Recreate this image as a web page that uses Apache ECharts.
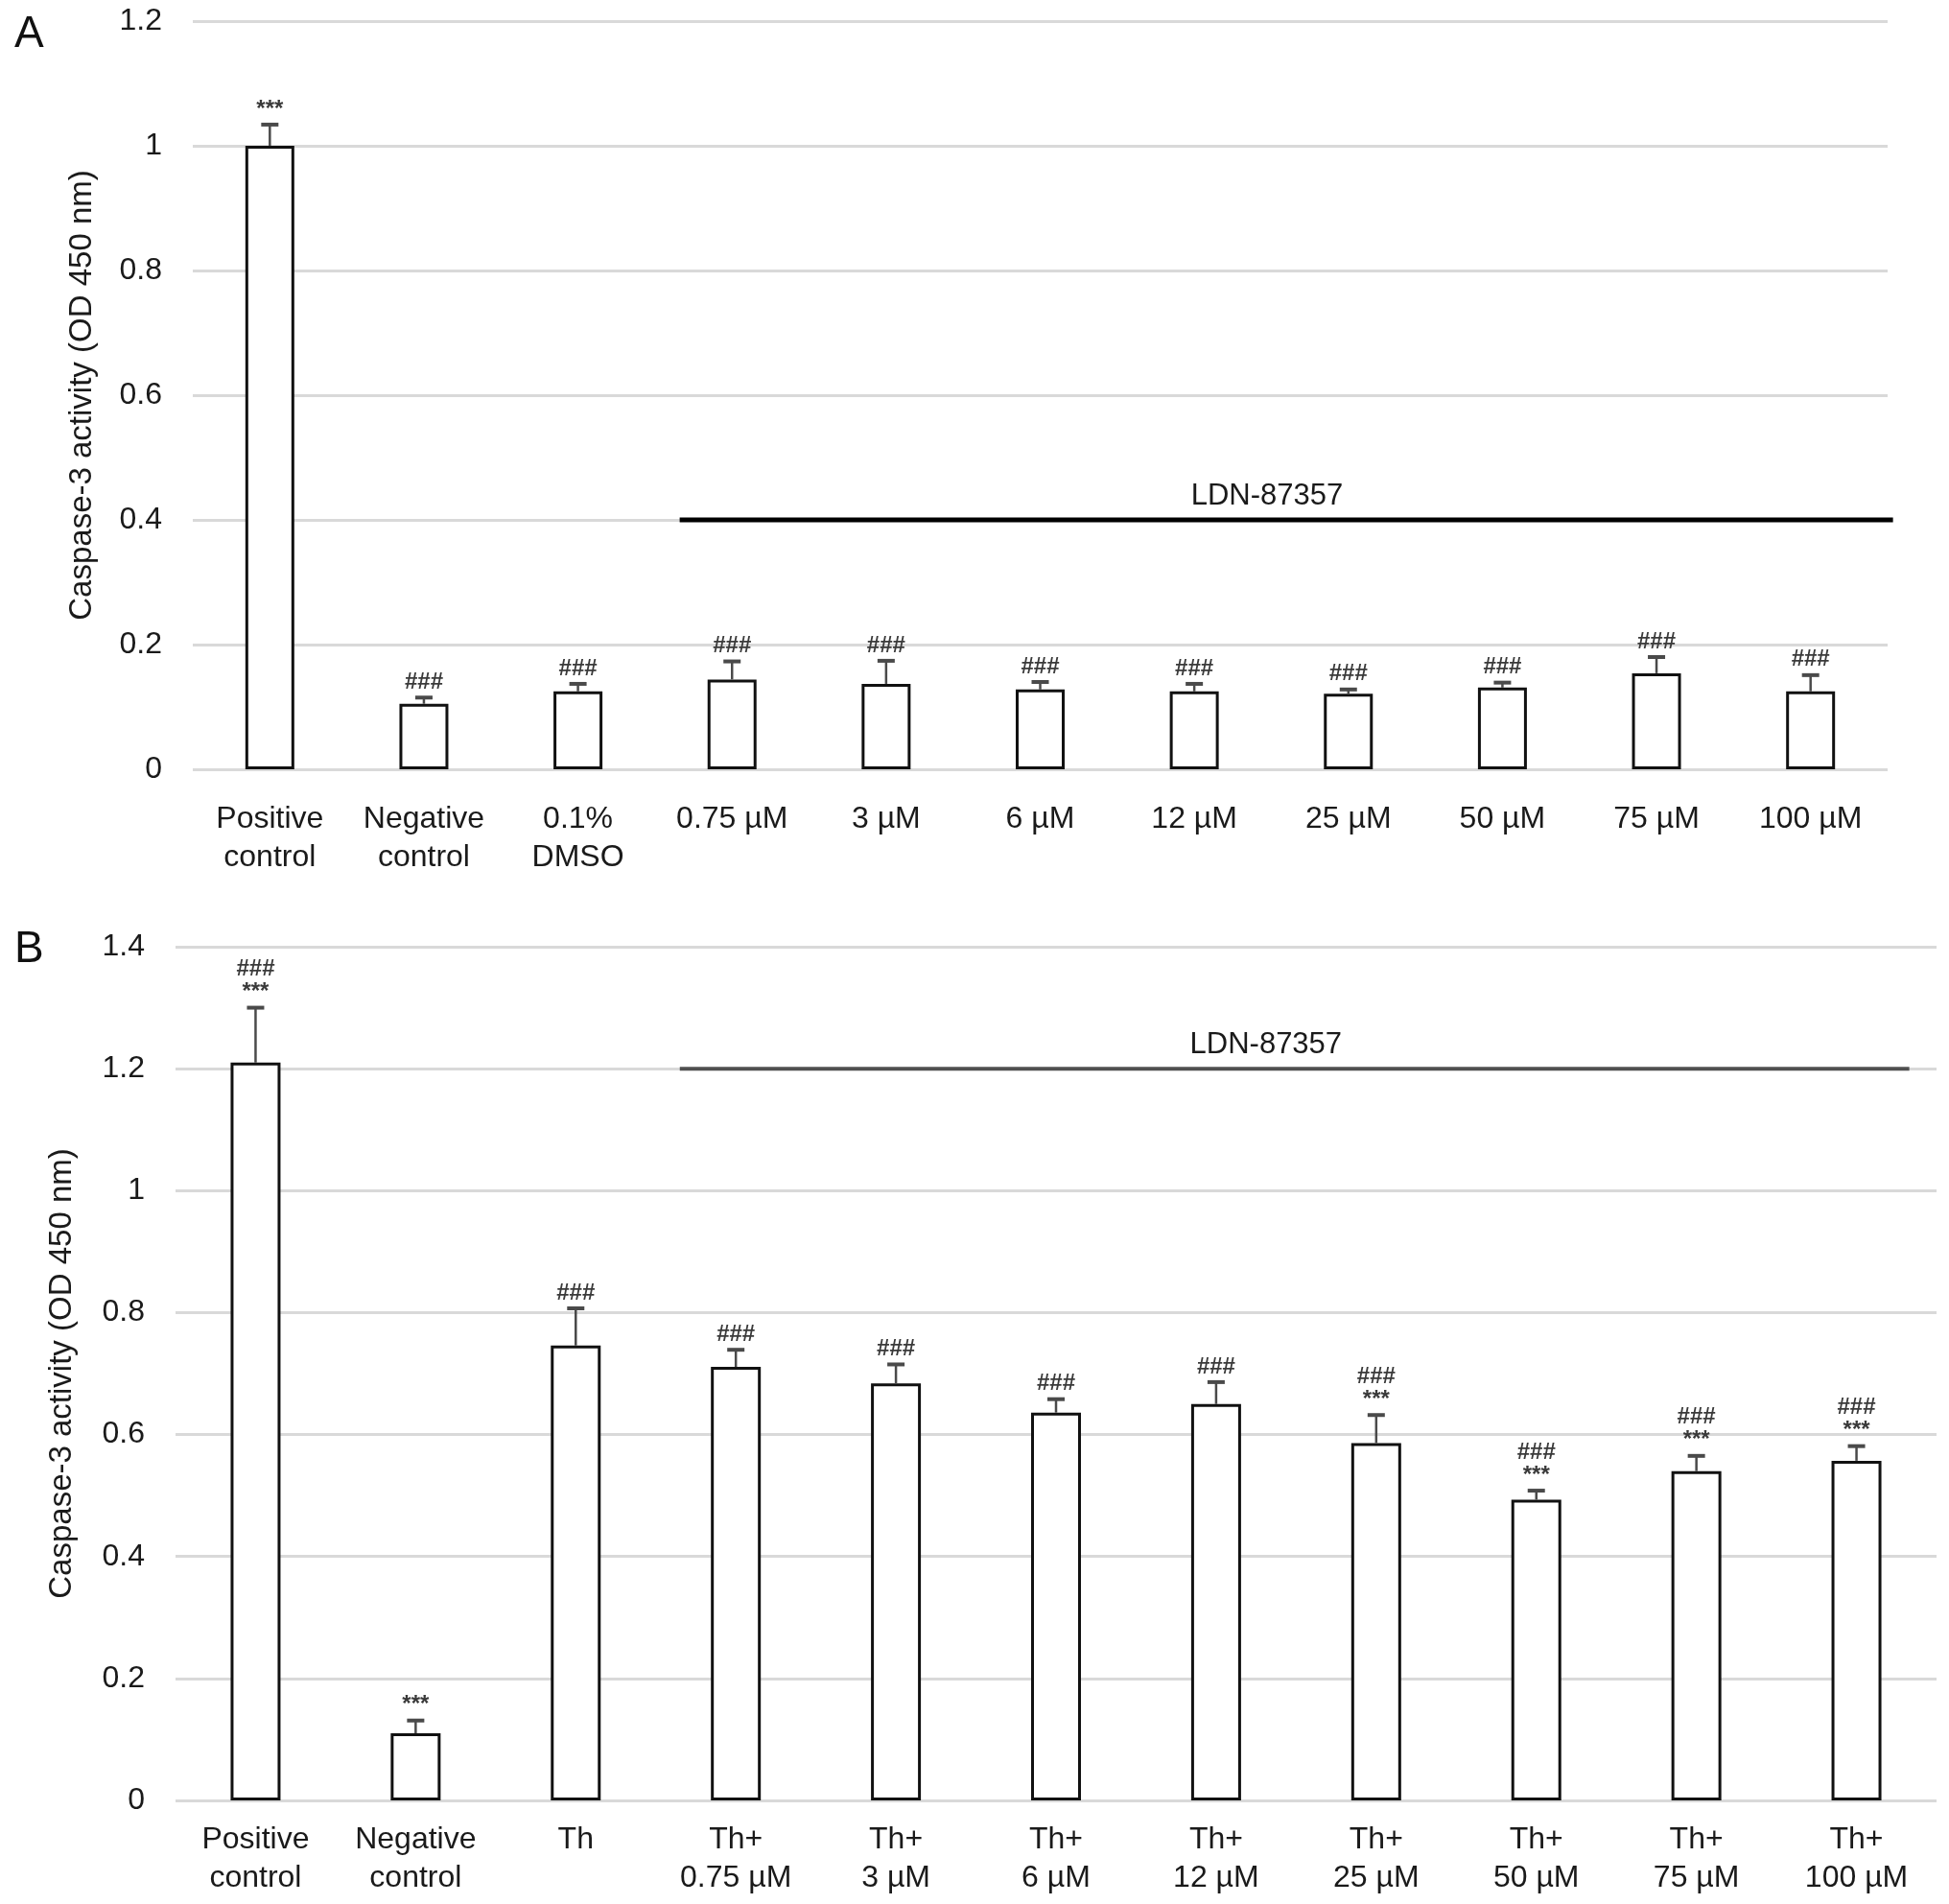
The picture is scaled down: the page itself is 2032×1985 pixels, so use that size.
<!DOCTYPE html>
<html>
<head>
<meta charset="utf-8">
<script src="https://cdn.jsdelivr.net/npm/echarts@6/dist/echarts.min.js"></script>
<style>
html,body{margin:0;padding:0;background:#fff;}
#chart{width:2032px;height:1985px;}
</style>
</head>
<body>
<div id="chart"></div>
<script>
// ---- Data ----
var categoriesA = ['Positive\ncontrol','Negative\ncontrol','0.1%\nDMSO','0.75 µM','3 µM','6 µM','12 µM','25 µM','50 µM','75 µM','100 µM'];
var valuesA = [1.0, 0.105, 0.125, 0.144, 0.137, 0.128, 0.125, 0.121, 0.131, 0.154, 0.125];
var errorsA = [0.034, 0.010, 0.012, 0.029, 0.037, 0.012, 0.012, 0.007, 0.008, 0.026, 0.026];
var marksA = ['***','###','###','###','###','###','###','###','###','###','###'];

var categoriesB = ['Positive\ncontrol','Negative\ncontrol','Th','Th+\n0.75 µM','Th+\n3 µM','Th+\n6 µM','Th+\n12 µM','Th+\n25 µM','Th+\n50 µM','Th+\n75 µM','Th+\n100 µM'];
var valuesB = [1.21, 0.110, 0.746, 0.711, 0.684, 0.636, 0.650, 0.586, 0.493, 0.540, 0.557];
var errorsB = [0.090, 0.021, 0.061, 0.028, 0.031, 0.022, 0.036, 0.046, 0.015, 0.025, 0.024];
var marksB = ['###\n***','***','###','###','###','###','###','###\n***','###\n***','###\n***','###\n***'];

var yTicksA = {min: 0, max: 1.2, interval: 0.2};
var yTicksB = {min: 0, max: 1.4, interval: 0.2};

var treatmentLabel = 'LDN-87357';
var treatmentStartIdx = 3, treatmentEndIdx = 10;
var treatmentLevelA = 0.4, treatmentLevelB = 1.2;

var yTitle = 'Caspase-3 activity (OD 450 nm)';

// ---- Chart ----
var FONT = '"Liberation Sans", Arial, Helvetica, sans-serif';
var chart = echarts.init(document.getElementById('chart'), null, {renderer: 'canvas'});

function errData(vals, errs) {
  return vals.map(function (v, i) { return [i, v, errs[i]]; });
}

function errRender(marks) {
  return function (params, api) {
    var i = api.value(0), v = api.value(1), e = api.value(2);
    var base = api.coord([i, v]);
    var top = api.coord([i, v + e]);
    var half = 9;
    return {
      type: 'group',
      children: [
        {type: 'line', shape: {x1: base[0], y1: base[1], x2: top[0], y2: top[1]}, style: {stroke: '#4a4a4a', lineWidth: 2.5}},
        {type: 'line', shape: {x1: top[0] - half, y1: top[1], x2: top[0] + half, y2: top[1]}, style: {stroke: '#4a4a4a', lineWidth: 4}},
        {type: 'text', x: top[0], y: top[1] - 4,
         style: {text: marks[params.dataIndex], fill: '#3a3a3a', font: 'bold 24px ' + FONT,
                 align: 'center', verticalAlign: 'bottom', lineHeight: 24}}
      ]
    };
  };
}

function treatRender(level, startFrac, endFrac, textFrac, color, width) {
  return function (params, api) {
    var band = api.size([1, 0])[0];
    var p0 = api.coord([treatmentStartIdx, level]);
    var p1 = api.coord([treatmentEndIdx, level]);
    var x0 = p0[0] - startFrac * band;
    var x1 = p1[0] + endFrac * band;
    return {
      type: 'group',
      children: [
        {type: 'line', shape: {x1: x0, y1: p0[1], x2: x1, y2: p1[1]}, style: {stroke: color, lineWidth: width}},
        {type: 'text', x: p0[0] + textFrac * (p1[0] - p0[0]), y: p0[1] - 9,
         style: {text: treatmentLabel, fill: '#1a1a1a', font: '31px ' + FONT, align: 'center', verticalAlign: 'bottom'}}
      ]
    };
  };
}

function xAxisCfg(idx, cats, margin) {
  return {
    type: 'category', gridIndex: idx, data: cats,
    axisLine: {show: false}, axisTick: {show: false},
    axisLabel: {interval: 0, margin: margin, fontSize: 32, lineHeight: 40, color: '#1a1a1a', fontFamily: FONT}
  };
}

function yAxisCfg(idx, ticks, gap) {
  return {
    type: 'value', gridIndex: idx, min: ticks.min, max: ticks.max, interval: ticks.interval,
    axisLine: {show: false}, axisTick: {show: false},
    axisLabel: {margin: 32, fontSize: 32, color: '#1a1a1a', fontFamily: FONT},
    splitLine: {show: true, lineStyle: {color: '#d9d9d9', width: 3}},
    name: yTitle, nameLocation: 'middle', nameGap: gap,
    nameTextStyle: {fontSize: 33, color: '#1a1a1a', fontFamily: FONT}
  };
}

var barStyle = {color: '#ffffff', borderColor: '#111111', borderWidth: 3};

chart.setOption({
  backgroundColor: '#ffffff',
  animation: false,
  title: [
    {text: 'A', left: 10, top: 8, textStyle: {fontSize: 46, fontWeight: 'normal', color: '#111', fontFamily: FONT}},
    {text: 'B', left: 10, top: 962, textStyle: {fontSize: 46, fontWeight: 'normal', color: '#111', fontFamily: FONT}}
  ],
  grid: [
    {left: 201, top: 22, width: 1767, height: 780},
    {left: 183, top: 987, width: 1836, height: 890}
  ],
  xAxis: [xAxisCfg(0, categoriesA, 32), xAxisCfg(1, categoriesB, 21)],
  yAxis: [yAxisCfg(0, yTicksA, 99), yAxisCfg(1, yTicksB, 102)],
  series: [
    {type: 'bar', xAxisIndex: 0, yAxisIndex: 0, data: valuesA, barWidth: 51, itemStyle: barStyle, z: 3},
    {type: 'custom', xAxisIndex: 0, yAxisIndex: 0, data: errData(valuesA, errorsA), renderItem: errRender(marksA), z: 4},
    {type: 'custom', xAxisIndex: 0, yAxisIndex: 0, data: [[treatmentStartIdx, treatmentLevelA]], renderItem: treatRender(treatmentLevelA, 0.34, 0.535, 0.496, '#000000', 5), z: 5},
    {type: 'bar', xAxisIndex: 1, yAxisIndex: 1, data: valuesB, barWidth: 52, itemStyle: barStyle, z: 3},
    {type: 'custom', xAxisIndex: 1, yAxisIndex: 1, data: errData(valuesB, errorsB), renderItem: errRender(marksB), z: 4},
    {type: 'custom', xAxisIndex: 1, yAxisIndex: 1, data: [[treatmentStartIdx, treatmentLevelB]], renderItem: treatRender(treatmentLevelB, 0.35, 0.33, 0.473, '#505050', 4), z: 5}
  ]
});
</script>
</body>
</html>
